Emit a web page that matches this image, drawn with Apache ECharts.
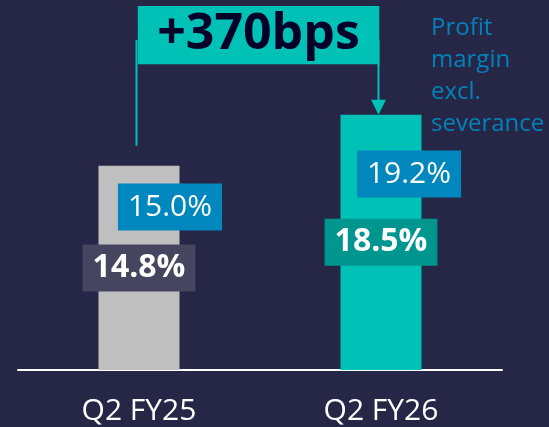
<!DOCTYPE html>
<html lang="en" style="height: 100%">
  <head>
    <meta charset="utf-8" />
  </head>
  <body style="height: 100%; margin: 0; background: #262647">
    <div id="container" style="width: 549px; height: 427px"></div>

    <script
      type="text/javascript"
      src="https://fastly.jsdelivr.net/npm/echarts@6/dist/echarts.min.js"
    ></script>
    <script type="text/javascript">
      // data
      const categories = ["Q2 FY25", "Q2 FY26"];
      const profitMargin = [14.8, 18.5];
      const marginExclSeverance = [15.0, 19.2];
      const exclLegend = ["Profit", "margin", "excl.", "severance"];

      // styling
      const barColors = ["#bfbfbf", "#00c1b6"];
      const labelBoxColors = ["#46455f", "#009690"];
      const blue = "#0087be";
      const teal = "#00c1b6";
      const font = "Open Sans";
      // where the blue boxes sit relative to their point
      const exclLabelOffset = [
        [31, 44],
        [28, 69],
      ];

      var dom = document.getElementById("container");
      var myChart = echarts.init(dom, null, { renderer: "canvas" });

      var option = {
        backgroundColor: "#262647",
        animation: false,
        title: {
          text: exclLegend.join("\n"),
          left: 431,
          top: 12,
          padding: 0,
          textStyle: {
            color: "#0083bb",
            fontFamily: font,
            fontWeight: "normal",
            fontSize: 24,
            lineHeight: 32,
          },
        },
        grid: { left: 18, right: 47, top: 25, bottom: 57 },
        xAxis: {
          type: "category",
          data: categories,
          axisLine: { lineStyle: { color: "#ffffff", width: 2 } },
          axisTick: { show: false },
          axisLabel: {
            color: "#ffffff",
            fontFamily: font,
            fontSize: 30,
            margin: 26,
          },
        },
        yAxis: { type: "value", min: 0, max: 25, show: false },
        series: [
          {
            type: "bar",
            barWidth: 81,
            data: profitMargin.map((v, i) => ({
              value: v,
              itemStyle: { color: barColors[i] },
              label: { backgroundColor: labelBoxColors[i] },
            })),
            label: {
              show: true,
              position: "inside",
              formatter: (p) => p.value.toFixed(1) + "%",
              color: "#ffffff",
              fontFamily: font,
              fontWeight: "bold",
              fontSize: 32,
              lineHeight: 33,
              padding: [7, 10],
            },
          },
          {
            type: "scatter",
            symbolSize: 0,
            z: 5,
            itemStyle: { opacity: 1 },
            data: marginExclSeverance.map((v, i) => ({
              value: [i, v],
              label: { offset: exclLabelOffset[i] },
            })),
            label: {
              show: true,
              position: "inside",
              formatter: (p) => p.value[1].toFixed(1) + "%",
              color: "#ffffff",
              backgroundColor: blue,
              opacity: 1,
              fontFamily: font,
              fontSize: 30,
              lineHeight: 33,
              padding: [7, 10],
            },
          },
        ],
      };

      myChart.setOption(option);

      // bracket with the change in basis points
      const p0 = myChart.convertToPixel({ seriesIndex: 0 }, [0, profitMargin[0]]);
      const p1 = myChart.convertToPixel({ seriesIndex: 0 }, [1, profitMargin[1]]);
      const lx = p0[0] - 2.5;
      const rx = p1[0] - 2.5;
      const bps = Math.round((profitMargin[1] - profitMargin[0]) * 100);
      myChart.setOption({
        graphic: [
          {
            type: "polyline",
            shape: {
              points: [
                [lx, p0[1] - 20],
                [lx, 40],
              ],
            },
            style: { stroke: teal, lineWidth: 2, fill: null },
          },
          {
            type: "polyline",
            shape: {
              points: [
                [rx, 40],
                [rx, p1[1] - 14],
              ],
            },
            style: { stroke: teal, lineWidth: 2, fill: null },
          },
          {
            type: "polygon",
            shape: {
              points: [
                [rx - 7.5, p1[1] - 15],
                [rx + 7.5, p1[1] - 15],
                [rx, p1[1]],
              ],
            },
            style: { fill: teal },
          },
          {
            type: "rect",
            shape: { x: lx + 1.3, y: 6, width: rx - lx - 0.5, height: 58.3 },
            style: { fill: teal },
          },
          {
            type: "text",
            x: (lx + rx) / 2 + 1,
            y: 35,
            style: {
              text: (bps >= 0 ? "+" : "") + bps + "bps",
              fill: "#000028",
              font: "bold 50px 'Open Sans'",
              align: "center",
              verticalAlign: "middle",
            },
          },
        ],
      });

      window.addEventListener("resize", myChart.resize);
    </script>
  </body>
</html>
